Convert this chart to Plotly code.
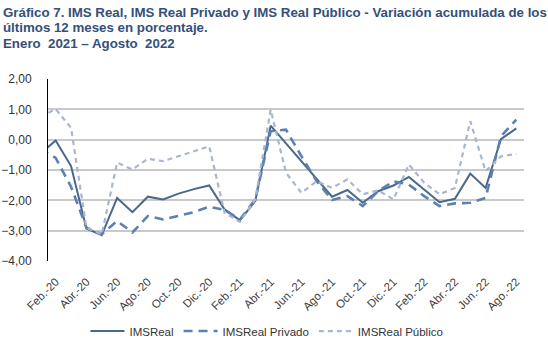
import plotly.graph_objects as go

months = ["Ene.-20", "Feb.-20", "Mar.-20", "Abr.-20", "May.-20", "Jun.-20", "Jul.-20", "Ago.-20",
          "Sep.-20", "Oct.-20", "Nov.-20", "Dic.-20", "Ene.-21", "Feb.-21", "Mar.-21", "Abr.-21",
          "May.-21", "Jun.-21", "Jul.-21", "Ago.-21", "Sep.-21", "Oct.-21", "Nov.-21", "Dic.-21",
          "Ene.-22", "Feb.-22", "Mar.-22", "Abr.-22", "May.-22", "Jun.-22", "Jul.-22", "Ago.-22"]

ims_real = [-0.46, -0.03, -0.87, -2.93, -3.15, -1.92, -2.39, -1.88, -1.97, -1.78, -1.63, -1.51,
            -2.30, -2.66, -2.02, 0.46, -0.12, -0.70, -1.28, -1.88, -1.66, -2.08, -1.70, -1.51,
            -1.23, -1.64, -2.06, -1.95, -1.12, -1.59, 0.02, 0.37]

ims_privado = [-0.30, -0.60, -1.55, -2.90, -3.12, -2.68, -3.06, -2.52, -2.63, -2.50, -2.39, -2.21,
               -2.32, -2.63, -1.97, 0.28, 0.33, -0.54, -1.37, -1.99, -1.86, -2.19, -1.70, -1.37,
               -1.48, -1.86, -2.19, -2.10, -2.08, -1.92, 0.11, 0.66]

ims_publico = [0.75, 1.01, 0.39, -2.90, -3.12, -0.76, -0.98, -0.63, -0.71, -0.54, -0.38, -0.22,
               -2.41, -2.71, -1.97, 0.99, -1.09, -1.75, -1.37, -1.59, -1.31, -1.80, -1.67, -1.97,
               -0.82, -1.42, -1.80, -1.59, 0.61, -1.04, -0.55, -0.47]

tick_idx = list(range(1, 32, 2))
tick_labels = [months[i] for i in tick_idx]

title_lines = ["Gráfico 7. IMS Real, IMS Real Privado y IMS Real Público - Variación acumulada de los",
               "últimos 12 meses en porcentaje.",
               "Enero  2021 – Agosto  2022"]

x = list(range(len(months)))

fig = go.Figure()
fig.add_trace(go.Scatter(x=x, y=ims_real, mode="lines", name="IMSReal",
                         line=dict(color="#4A6889", width=2)))
fig.add_trace(go.Scatter(x=x, y=ims_privado, mode="lines", name="IMSReal Privado",
                         line=dict(color="#5B81B2", width=2.6, dash="9px,6px")))
fig.add_trace(go.Scatter(x=x, y=ims_publico, mode="lines", name="IMSReal Público",
                         line=dict(color="#AAB5CE", width=2.2, dash="5px,4px")))

for k, t in enumerate(title_lines):
    fig.add_annotation(text="<b>" + t + "</b>", xref="paper", yref="paper",
                       x=-47 / 476, xanchor="left", y=1 + (67 - 15.5 * k) / 182, yanchor="middle",
                       showarrow=False, font=dict(size=13.3, color="#34507A",
                                                  family="Liberation Sans, Arial, sans-serif"))

fig.update_layout(
    width=548, height=342,
    margin=dict(l=48, r=24, t=79, b=81, autoexpand=False),
    paper_bgcolor="white", plot_bgcolor="white",
    separators=",.",
    showlegend=True,
    legend=dict(orientation="h", x=0.46, xanchor="center", y=-0.385, yanchor="middle",
                font=dict(size=11.5, color="#333333", family="Liberation Sans, Arial, sans-serif"),
                itemwidth=34, tracegroupgap=0),
    font=dict(family="Liberation Sans, Arial, sans-serif", color="#333333"),
)
fig.update_xaxes(range=[0.5, 31.5], tickmode="array", tickvals=tick_idx, ticktext=tick_labels,
                 tickangle=-45, tickfont=dict(size=11.5, color="#404040"), showgrid=False,
                 zeroline=False, showline=False, ticks="", automargin=False, ticklabelstandoff=11)
fig.update_yaxes(range=[-4, 2], dtick=1, tick0=0, tickformat=".2f", showgrid=True,
                 gridcolor="#C9C9C9", gridwidth=1.5, zeroline=False, showline=True,
                 linecolor="#000000", linewidth=1, ticks="", ticklabelstandoff=13,
                 tickfont=dict(size=12, color="#333333"), automargin=False)

fig.write_html("out.html")
